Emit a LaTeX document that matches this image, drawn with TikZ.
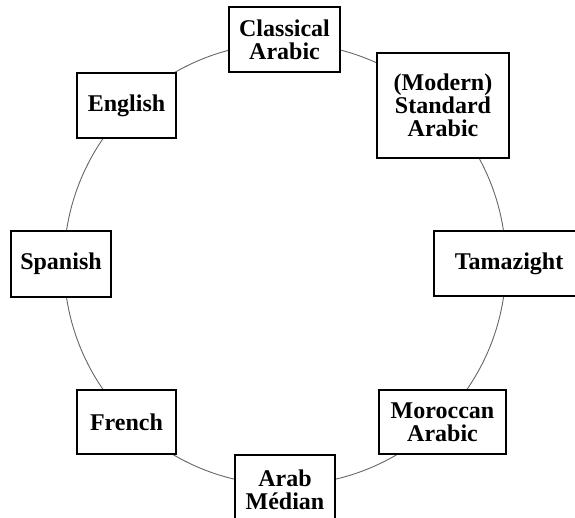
\documentclass[tikz,border=0pt]{standalone}
\usepackage{fontspec}
\setmainfont{Liberation Serif}
\begin{document}
\begin{tikzpicture}[x=1pt,y=-1pt,
  ring/.style={draw=black!60,line width=0.9pt},
  lang/.style={draw=black,line width=1.3pt,fill=white,inner sep=0pt,
    align=center,font=\bfseries\fontsize{24}{23.2}\selectfont},
]
\useasboundingbox (0,0) rectangle (575,518);
% the ring joining all languages
\coordinate (c) at (285,264);
\draw[ring] (c) circle (221pt);
% language boxes around the ring
\node[lang,minimum width=111pt,minimum height=65pt] (ca)  at (284.5,39.5) {Classical\\Arabic};
\node[lang,minimum width=132pt,minimum height=105pt] (msa) at (443,105.5) {(Modern)\\Standard\\Arabic};
\node[lang,minimum width=150pt,minimum height=65pt] (tam) at (509,263.5) {Tamazight};
\node[lang,minimum width=127pt,minimum height=64pt] (mor) at (442.5,422) {Moroccan\\Arabic};
\node[lang,minimum width=100pt,minimum height=70pt] (am)  at (285,490) {Arab\\Médian};
\node[lang,minimum width=99pt,minimum height=64pt] (fr)  at (126.5,422) {French};
\node[lang,minimum width=100pt,minimum height=66pt] (sp)  at (61,264) {Spanish};
\node[lang,minimum width=99pt,minimum height=65pt] (en)  at (126.5,105.5) {English};
\end{tikzpicture}
\end{document}
